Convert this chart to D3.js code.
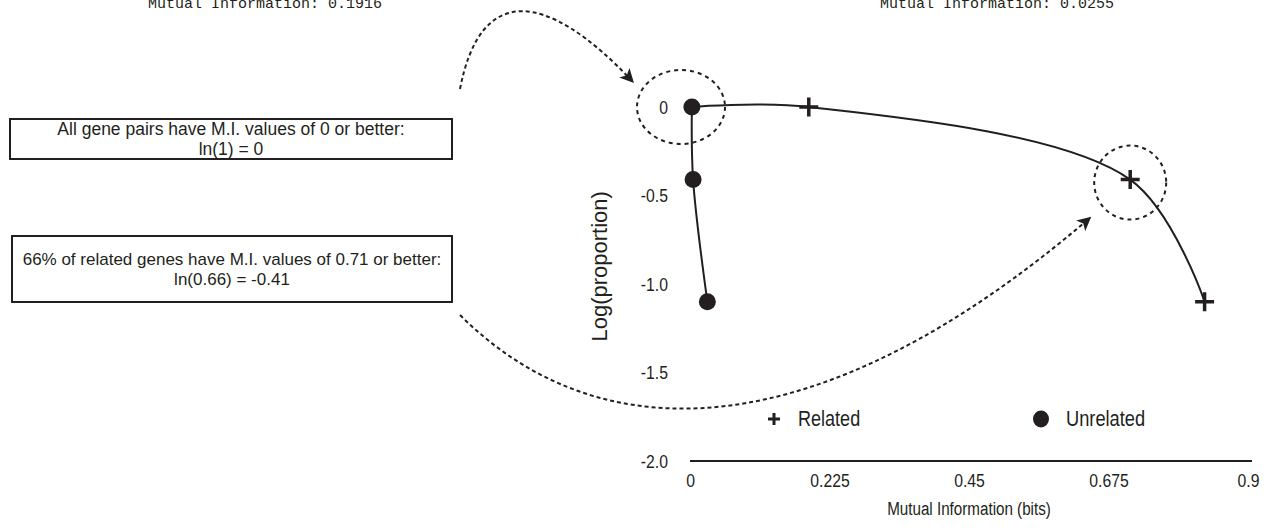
<!DOCTYPE html>
<html lang="en">
<head>
<meta charset="UTF-8">
<title>Log proportion vs mutual information</title>
<script src="https://d3js.org/d3.v7.min.js"></script>
<style>
  body { margin: 0; background: #fff; }
  text { font-family: "Liberation Sans", Arial, sans-serif; fill: #231f20; }
  .mono { font-family: "Liberation Mono", "DejaVu Sans Mono", monospace; }
</style>
</head>
<body>
<div id="chart"></div>
<script>
// data
const relatedX = [0, 0.1916, 0.71, 0.83];
const relatedY = [0, 0, -0.41, -1.1];
const unrelatedX = [0.003, 0.005, 0.028];
const unrelatedY = [0, -0.41, -1.1];
const xTicks = [0, 0.225, 0.45, 0.675, 0.9];
const xTickLabels = ["0", "0.225", "0.45", "0.675", "0.9"];
const yTicks = [0, -0.5, -1, -1.5, -2];
const yTickLabels = ["0", "-0.5", "-1.0", "-1.5", "-2.0"];
const headerTexts = ["Mutual Information: 0.1916", "Mutual Information: 0.0255"];
const noteLines = [
  ["All gene pairs have M.I. values of 0 or better:", "ln(1) = 0"],
  ["66% of related genes have M.I. values of 0.71 or better:", "ln(0.66) = -0.41"]
];
const legendNames = ["Related", "Unrelated"];

const width = 1276, height = 529;
const ink = "#231f20";
const narrow = 0.83; // the figure uses a condensed sans

const svg = d3.select("#chart").append("svg")
  .attr("width", width)
  .attr("height", height);

const x = d3.scaleLinear().domain([0, 0.9]).range([690, 1248]);
const y = d3.scaleLinear().domain([-2, 0]).range([461, 107]);

// condensed text placed at (px, py)
function label(px, py, str, size, anchor, k = narrow) {
  return svg.append("text")
    .attr("transform", `translate(${px},${py}) scale(${k},1)`)
    .attr("text-anchor", anchor || "start")
    .attr("font-size", size)
    .text(str);
}

// arrow marker
svg.append("defs").append("marker")
  .attr("id", "head")
  .attr("viewBox", "0 0 10 10")
  .attr("refX", 9).attr("refY", 5)
  .attr("markerWidth", 7).attr("markerHeight", 7)
  .attr("markerUnits", "strokeWidth")
  .attr("orient", "auto")
  .append("path").attr("d", "M0,0 L10,5 L0,10 L2.5,5 Z").attr("fill", ink);

// cut-off headers at the top
svg.selectAll(".hdr").data(headerTexts).enter().append("text")
  .attr("class", "mono")
  .attr("x", (d, i) => i === 0 ? 148 : 880)
  .attr("y", 8)
  .attr("font-size", 15)
  .text(d => d);

// x axis
const xAxis = svg.append("g")
  .attr("transform", `translate(0,${y(-2)})`)
  .call(d3.axisBottom(x).tickValues(xTicks).tickSize(0).tickPadding(13)
    .tickFormat((d, i) => xTickLabels[i]));
xAxis.select(".domain").attr("stroke", ink).attr("stroke-width", 2)
  .attr("d", `M${x(0)},0H${x(0.9) + 4}`);
xAxis.selectAll("text")
  .attr("font-size", 19).attr("font-family", null).attr("fill", ink)
  .attr("transform", `scale(${narrow},1)`);

// y axis (labels only)
const yAxis = svg.append("g")
  .attr("transform", `translate(${x(0)},0)`)
  .call(d3.axisLeft(y).tickValues(yTicks).tickSize(0).tickPadding(22)
    .tickFormat((d, i) => yTickLabels[i]));
yAxis.select(".domain").remove();
yAxis.selectAll("text")
  .attr("font-size", 19).attr("font-family", null).attr("fill", ink)
  .attr("x", -22 / narrow)
  .attr("transform", `scale(${narrow},1)`);

label(x(0.45), 515, "Mutual Information (bits)", 19, "middle", 0.8);

svg.append("text")
  .attr("transform", `translate(607,${y(-0.9)}) rotate(-90)`)
  .attr("text-anchor", "middle").attr("font-size", 22)
  .text("Log(proportion)");

// curves
const related = relatedX.map((v, i) => [v, relatedY[i]]);
const unrelated = unrelatedX.map((v, i) => [v, unrelatedY[i]]);
const line = d3.line().x(d => x(d[0])).y(d => y(d[1])).curve(d3.curveCatmullRom);

svg.append("path").datum(related)
  .attr("d", line).attr("fill", "none").attr("stroke", ink).attr("stroke-width", 2);
svg.append("path").datum(unrelated)
  .attr("d", line).attr("fill", "none").attr("stroke", ink).attr("stroke-width", 2);

// markers
const plus = (g, s, w) => g.append("path")
  .attr("d", `M${-s},0H${s}M0,${-s}V${s}`)
  .attr("stroke", ink).attr("stroke-width", w);

svg.selectAll(".rel").data(related.filter(d => d[0] > 0)).enter().append("g")
  .attr("transform", d => `translate(${x(d[0])},${y(d[1])})`)
  .each(function () { plus(d3.select(this), 9.5, 3.5); });

svg.selectAll(".unrel").data(unrelated).enter().append("circle")
  .attr("cx", d => x(d[0])).attr("cy", d => y(d[1]))
  .attr("r", 8.5).attr("fill", ink);

// legend
const lg1 = svg.append("g").attr("transform", "translate(774,419)");
plus(lg1, 6, 3);
label(798, 426, legendNames[0], 22, "start", 0.82);
svg.append("ellipse").attr("cx", 1041).attr("cy", 419).attr("rx", 8).attr("ry", 8.5).attr("fill", ink);
label(1066, 426, legendNames[1], 22, "start", 0.83);

// dotted circles around points of interest
const c1 = [x(0) - 9, y(0)];
const c2 = [x(relatedX[2]), y(relatedY[2]) + 3];
svg.append("ellipse").attr("cx", c1[0]).attr("cy", c1[1]).attr("rx", 44).attr("ry", 37)
  .attr("fill", "none").attr("stroke", ink).attr("stroke-width", 2).attr("stroke-dasharray", "4,4");
svg.append("ellipse").attr("cx", c2[0]).attr("cy", c2[1]).attr("rx", 36).attr("ry", 37)
  .attr("fill", "none").attr("stroke", ink).attr("stroke-width", 2).attr("stroke-dasharray", "4,4");

// note boxes
const boxes = [
  {x: 10, y: 119, w: 442, h: 40, size: 17.5, gap: 10},
  {x: 12, y: 236, w: 440, h: 66, size: 17, gap: 10}
];
boxes.forEach((b, i) => {
  svg.append("rect").attr("x", b.x).attr("y", b.y).attr("width", b.w).attr("height", b.h)
    .attr("fill", "#fff").attr("stroke", ink).attr("stroke-width", 2);
  const cy = b.y + b.h / 2;
  noteLines[i].forEach((t, j) => {
    svg.append("text")
      .attr("x", b.x + b.w / 2)
      .attr("y", cy + (j === 0 ? -b.gap : b.gap))
      .attr("dy", "0.35em")
      .attr("text-anchor", "middle")
      .attr("font-size", b.size)
      .text(t);
  });
});

// dotted arrows
svg.append("path")
  .attr("d", `M460,89 C480,-15 545,-12 ${c1[0] - 48},${c1[1] - 25}`)
  .attr("fill", "none").attr("stroke", ink).attr("stroke-width", 2)
  .attr("stroke-dasharray", "4,3").attr("marker-end", "url(#head)");
svg.append("path")
  .attr("d", `M460,315 C600,455 820,450 ${c2[0] - 40},${c2[1] + 35}`)
  .attr("fill", "none").attr("stroke", ink).attr("stroke-width", 2)
  .attr("stroke-dasharray", "4,3").attr("marker-end", "url(#head)");
</script>
</body>
</html>
